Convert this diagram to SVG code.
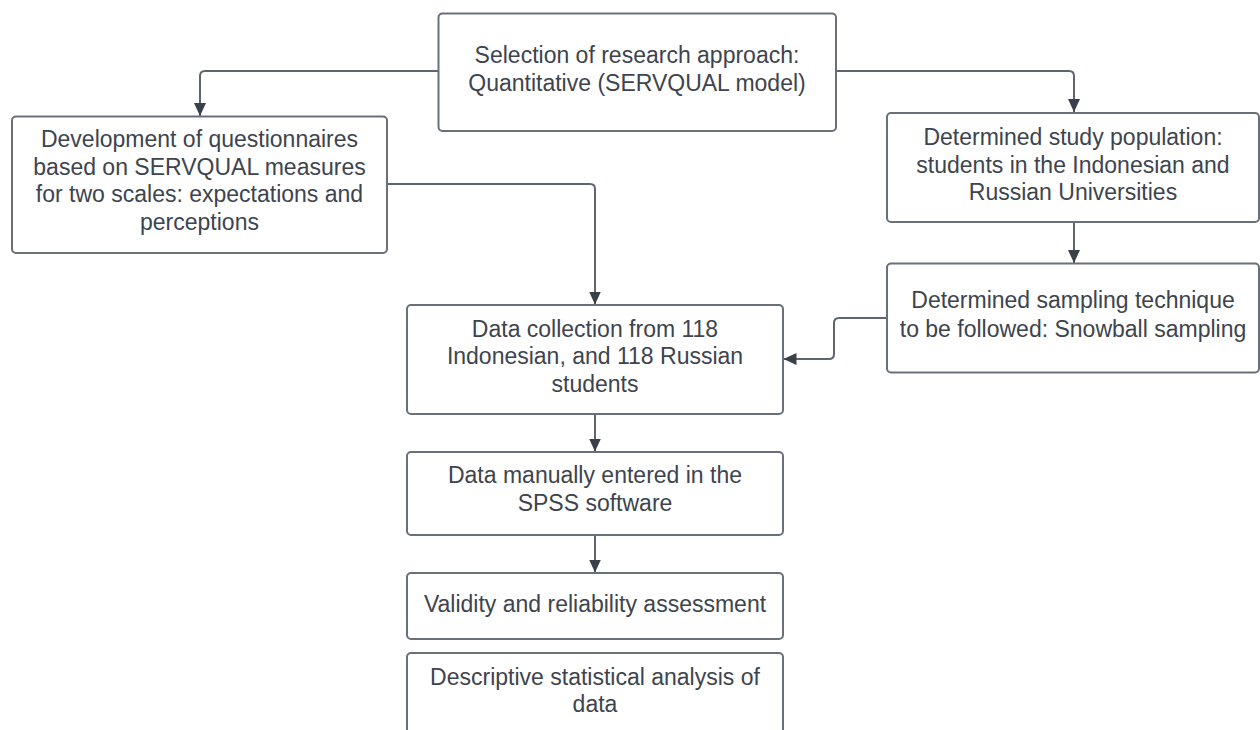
<svg xmlns="http://www.w3.org/2000/svg" width="1260" height="730" viewBox="0 0 1260 730">
  <style>
    .box { fill: #ffffff; stroke: #6a7079; stroke-width: 2; }
    .lbl { font-family: "Liberation Sans", Arial, sans-serif; font-size: 23px; fill: #3d444e; text-anchor: middle; }
    .conn { fill: none; stroke: #5f656e; stroke-width: 2; marker-end: url(#arr); }
  </style>
  <defs>
    <marker id="arr" markerUnits="userSpaceOnUse" markerWidth="14" markerHeight="12" refX="13" refY="6" orient="auto" viewBox="0 0 14 12">
      <path d="M0,0 L13,6 L0,12 Z" fill="#39404a"/>
    </marker>
  </defs>
  <rect width="1260" height="730" fill="#ffffff"/>

  <g id="connectors">
    <path class="conn" d="M438,71 H205 Q200,71 200,76 V116"/>
    <path class="conn" d="M836,71 H1069 Q1074,71 1074,76 V112"/>
    <path class="conn" d="M1074,222 V263"/>
    <path class="conn" d="M387,184 H590 Q595,184 595,189 V304.5"/>
    <path class="conn" d="M887,318 H839 Q834,318 834,323 V354 Q834,359 829,359 H783.5"/>
    <path class="conn" d="M595,414 V451.5"/>
    <path class="conn" d="M595,535 V572.5"/>
  </g>

  <g id="node-approach">
    <rect class="box" x="438.5" y="13.5" width="397.5" height="117.5" rx="4"/>
    <text class="lbl" x="637" y="63">Selection of research approach:</text>
    <text class="lbl" x="637" y="91">Quantitative (SERVQUAL model)</text>
  </g>

  <g id="node-questionnaires">
    <rect class="box" x="12" y="116.5" width="375" height="136.5" rx="4"/>
    <text class="lbl" x="199.5" y="147">Development of questionnaires</text>
    <text class="lbl" x="199.5" y="175">based on SERVQUAL measures</text>
    <text class="lbl" x="199.5" y="202">for two scales: expectations and</text>
    <text class="lbl" x="199.5" y="230">perceptions</text>
  </g>

  <g id="node-population">
    <rect class="box" x="887" y="113" width="372" height="109" rx="4"/>
    <text class="lbl" x="1073" y="145">Determined study population:</text>
    <text class="lbl" x="1073" y="173">students in the Indonesian and</text>
    <text class="lbl" x="1073" y="200">Russian Universities</text>
  </g>

  <g id="node-sampling">
    <rect class="box" x="887" y="263.5" width="372" height="109" rx="4"/>
    <text class="lbl" x="1073" y="308">Determined sampling technique</text>
    <text class="lbl" x="1073" y="336.5">to be followed: Snowball sampling</text>
  </g>

  <g id="node-collection">
    <rect class="box" x="407" y="305" width="376" height="109" rx="4"/>
    <text class="lbl" x="595" y="337">Data collection from 118</text>
    <text class="lbl" x="595" y="364">Indonesian, and 118 Russian</text>
    <text class="lbl" x="595" y="392">students</text>
  </g>

  <g id="node-spss">
    <rect class="box" x="407" y="452" width="376" height="83" rx="4"/>
    <text class="lbl" x="595" y="483">Data manually entered in the</text>
    <text class="lbl" x="595" y="511">SPSS software</text>
  </g>

  <g id="node-validity">
    <rect class="box" x="407" y="573" width="376" height="66" rx="4"/>
    <text class="lbl" x="595" y="612">Validity and reliability assessment</text>
  </g>

  <g id="node-descriptive">
    <rect class="box" x="407" y="653" width="376" height="95" rx="4"/>
    <text class="lbl" x="595" y="685">Descriptive statistical analysis of</text>
    <text class="lbl" x="595" y="712">data</text>
  </g>
</svg>
